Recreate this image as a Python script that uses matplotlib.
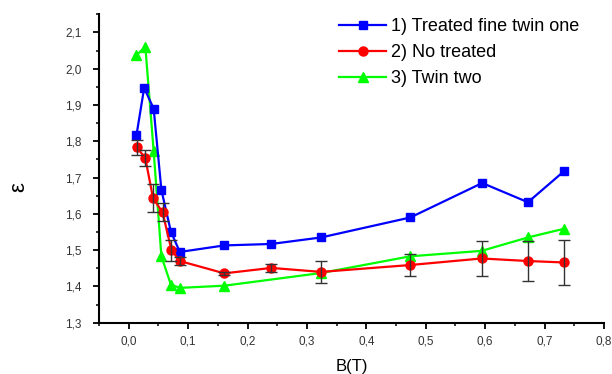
import numpy as np
import matplotlib.pyplot as plt
from matplotlib.ticker import MultipleLocator, FuncFormatter

# Series
b_blue = [0.013, 0.026, 0.042, 0.055, 0.071, 0.086, 0.161, 0.240, 0.324, 0.474, 0.595, 0.672, 0.733]
eps_blue = [1.816, 1.947, 1.890, 1.666, 1.551, 1.495, 1.513, 1.517, 1.535, 1.590, 1.685, 1.632, 1.718]

b_red = [0.014, 0.028, 0.041, 0.057, 0.072, 0.086, 0.161, 0.240, 0.324, 0.474, 0.594, 0.672, 0.733]
eps_red = [1.783, 1.753, 1.643, 1.604, 1.500, 1.470, 1.436, 1.451, 1.440, 1.459, 1.477, 1.470, 1.466]
err_red = [0.020, 0.022, 0.038, 0.025, 0.029, 0.012, 0.005, 0.010, 0.030, 0.030, 0.048, 0.054, 0.063]

b_green = [0.013, 0.028, 0.042, 0.055, 0.071, 0.086, 0.161, 0.324, 0.474, 0.594, 0.672, 0.733]
eps_green = [2.037, 2.061, 1.773, 1.483, 1.405, 1.396, 1.402, 1.437, 1.483, 1.498, 1.535, 1.559]

labels = ["1) Treated fine twin one", "2) No treated", "3) Twin two"]

plt.rcParams['font.family'] = ['Liberation Sans', 'DejaVu Sans']

fig = plt.figure(figsize=(6.12, 3.74), dpi=100)
ax = fig.add_axes([99 / 612, 1 - 322.7 / 374, 505 / 612, 308.4 / 374])

ax.plot(b_blue, eps_blue, color='#0000ff', lw=1.6, marker='s', ms=6, label=labels[0], zorder=3)
ax.plot(b_red, eps_red, color='#ff0000', lw=1.6, marker='o', ms=6.5, label=labels[1], zorder=3)
ax.plot(b_green, eps_green, color='#00ff00', lw=1.6, marker='^', ms=6.5, label=labels[2], zorder=2)
ax.errorbar(b_red, eps_red, yerr=err_red, fmt='none', ecolor='#333333', elinewidth=1,
            capsize=4, capthick=1, zorder=4)

ax.set_xlim(-0.05, 0.8)
ax.set_ylim(1.3, 2.15)
ax.xaxis.set_major_locator(MultipleLocator(0.1))
ax.xaxis.set_minor_locator(MultipleLocator(0.05))
ax.yaxis.set_major_locator(MultipleLocator(0.1))
ax.yaxis.set_minor_locator(MultipleLocator(0.05))
comma = FuncFormatter(lambda v, p: f"{v:.1f}".replace('.', ','))
ax.xaxis.set_major_formatter(comma)
ax.yaxis.set_major_formatter(comma)

for s in ['top', 'right']:
    ax.spines[s].set_visible(False)
for s in ['left', 'bottom']:
    ax.spines[s].set_linewidth(1.5)
ax.tick_params(which='major', direction='out', length=4.5, width=1.3, labelsize=8.5,
               labelcolor='#333333')
ax.tick_params(which='minor', direction='out', length=2.5, width=1.1)
ax.tick_params(axis='y', which='major', pad=8)
ax.tick_params(axis='x', which='major', pad=5)

ax.set_xlabel("B(T)", fontsize=12, va='center')
ax.xaxis.set_label_coords((352 - 99) / 505, -(366 - 322.7) / 308.4)
ax.set_ylabel("ε", fontsize=16, va='center')
ax.yaxis.set_label_coords((19 - 99) / 505, (322.7 - 187) / 308.4)

ax.legend(frameon=False, loc='upper left', bbox_to_anchor=(330 / 612, 1 - 9 / 374),
          bbox_transform=fig.transFigure, fontsize=13, handlelength=2.6,
          handletextpad=0.3, labelspacing=0.5, borderpad=0)

fig.savefig("out.png", dpi=100)
